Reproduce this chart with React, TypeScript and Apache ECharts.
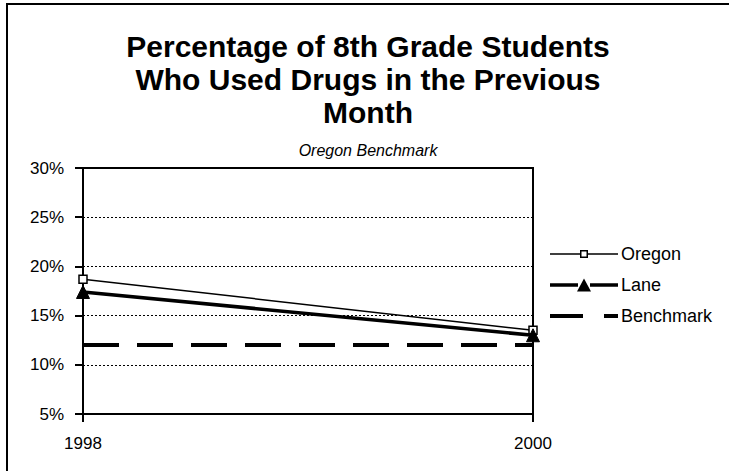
import React, { useEffect, useRef } from "react";
import * as echarts from "echarts";

const years = ["1998", "2000"];
const oregon = [18.7, 13.5];
const lane = [17.4, 13.0];
const benchmark = [12, 12];
const titleText = "Percentage of 8th Grade Students\nWho Used Drugs in the Previous\nMonth";
const subtitleText = "Oregon Benchmark";

const FONT = "'Liberation Sans', Arial, sans-serif";

// legend icons (line + marker), drawn in a 68 x 13 box
const ICON_OREGON =
  "path://M0,5.75H30V7.25H0Z M38,5.75H68V7.25H38Z M30,2.5H38V10.5H30Z M31.5,4V9H36.5V4Z";
const ICON_LANE = "path://M0,4.75H28V8.25H0Z M40,4.75H68V8.25H40Z M34,0L41,13L27,13Z";
const ICON_BENCH = "path://M0,4.5H33V8.5H0Z M54,4.5H68V8.5H54Z M0,0H0.01V13H0Z";

export default function App() {
  const ref = useRef<HTMLDivElement>(null);
  useEffect(() => {
    if (!ref.current) return;
    const chart = echarts.init(ref.current, null, { renderer: "svg" });
    chart.setOption({
      animation: false,
      backgroundColor: "#fff",
      textStyle: { fontFamily: FONT, color: "#000" },
      title: {
        text: titleText,
        subtext: subtitleText,
        left: 368,
        textAlign: "center",
        top: 30,
        padding: 0,
        itemGap: 12,
        textStyle: { fontFamily: FONT, fontSize: 30, fontWeight: "bold", color: "#000", lineHeight: 33 },
        subtextStyle: { fontFamily: FONT, fontSize: 16, fontStyle: "italic", color: "#000", lineHeight: 18 },
      },
      graphic: [
        { type: "line", shape: { x1: 6, y1: 4, x2: 729, y2: 4 }, style: { stroke: "#000", lineWidth: 2 } },
        { type: "line", shape: { x1: 7, y1: 3, x2: 7, y2: 471 }, style: { stroke: "#000", lineWidth: 2 } },
      ],
      legend: {
        orient: "vertical",
        left: 550,
        top: 245,
        padding: 0,
        itemWidth: 68,
        itemHeight: 13,
        itemGap: 13,
        symbolKeepAspect: true,
        textStyle: { fontFamily: FONT, fontSize: 18, color: "#000", padding: [0, 0, 0, -2] },
        data: [
          { name: "Oregon", icon: ICON_OREGON, itemStyle: { color: "#000", borderWidth: 0 } },
          { name: "Lane", icon: ICON_LANE, itemStyle: { color: "#000", borderWidth: 0 } },
          { name: "Benchmark", icon: ICON_BENCH, itemStyle: { color: "#000", borderWidth: 0 } },
        ],
      },
      grid: {
        left: 83,
        right: 196,
        top: 168,
        bottom: 57,
        show: true,
        borderColor: "#000",
        borderWidth: 2,
        containLabel: false,
      },
      xAxis: {
        type: "category",
        data: years,
        boundaryGap: false,
        axisLine: { lineStyle: { color: "#000", width: 2 } },
        axisTick: { show: true, length: 8, inside: false, lineStyle: { color: "#000", width: 2 } },
        axisLabel: { fontFamily: FONT, fontSize: 17, color: "#000", margin: 21 },
        splitLine: { show: false },
      },
      yAxis: {
        type: "value",
        min: 5,
        max: 30,
        interval: 5,
        axisLine: { show: true, lineStyle: { color: "#000", width: 2 } },
        axisTick: { show: true, length: 8, lineStyle: { color: "#000", width: 2 } },
        axisLabel: { fontFamily: FONT, fontSize: 17, color: "#000", margin: 19, formatter: "{value}%" },
        splitLine: { show: true, lineStyle: { color: "#000", width: 1, type: [2, 2] } },
      },
      series: [
        {
          name: "Oregon",
          type: "line",
          data: oregon,
          symbol: "rect",
          symbolSize: 8,
          lineStyle: { color: "#000", width: 1.5 },
          itemStyle: { color: "#fff", borderColor: "#000", borderWidth: 1.5 },
          z: 3,
        },
        {
          name: "Lane",
          type: "line",
          data: lane,
          symbol: "triangle",
          symbolSize: 13,
          showAllSymbol: true,
          lineStyle: { color: "#000", width: 3.5 },
          itemStyle: { color: "#000", borderColor: "#000" },
          z: 4,
        },
        {
          name: "Benchmark",
          type: "line",
          data: benchmark,
          symbol: "none",
          lineStyle: { color: "#000", width: 4, type: [36, 18] },
          itemStyle: { color: "#000" },
          z: 2,
        },
      ],
    });
    return () => chart.dispose();
  }, []);
  return <div ref={ref} style={{ width: 729, height: 471, position: "absolute", left: 0, top: 0 }} />;
}
